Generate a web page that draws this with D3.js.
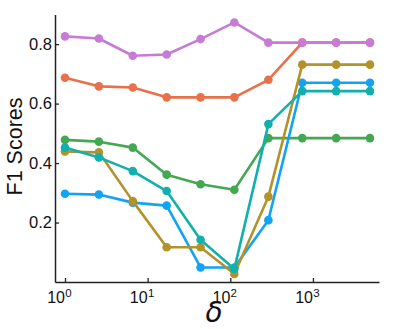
<!DOCTYPE html>
<html><head><meta charset="utf-8">
<script src="https://cdn.jsdelivr.net/npm/d3@7"></script>
<style>body{margin:0;background:#fff}svg{display:block}</style>
</head><body>
<svg id="c" width="395" height="329"></svg>
<script>
const deltas = [1, 2.57, 6.61, 17, 43.7, 112, 289, 743, 1910, 4900];
const seriesNames = ["orange", "green", "blue", "gold", "teal", "purple"];
const seriesColors = ["#e8704a", "#44a852", "#12a3f5", "#b3922a", "#12b0ad", "#c87bd6"];
const orange = [0.687, 0.658, 0.654, 0.621, 0.621, 0.621, 0.680, 0.805, 0.805, 0.805];
const green  = [0.478, 0.472, 0.452, 0.361, 0.329, 0.310, 0.484, 0.484, 0.484, 0.484];
const blue   = [0.297, 0.294, 0.267, 0.257, 0.049, 0.049, 0.208, 0.670, 0.670, 0.670];
const gold   = [0.439, 0.436, 0.272, 0.117, 0.117, 0.027, 0.287, 0.731, 0.731, 0.731];
const teal   = [0.452, 0.419, 0.373, 0.306, 0.142, 0.044, 0.531, 0.642, 0.642, 0.642];
const purple = [0.826, 0.819, 0.761, 0.765, 0.817, 0.873, 0.805, 0.805, 0.805, 0.805];
const seriesValues = [orange, green, blue, gold, teal, purple];
const xTicks = [1, 10, 100, 1000];
const xTickExps = ["0", "1", "2", "3"];
const yTicks = [0.2, 0.4, 0.6, 0.8];

const svg = d3.select("#c");
const x = d3.scaleLog().domain([0.757, 6300]).range([55, 379]);
const y = d3.scaleLinear().domain([0, 0.9]).range([282, 14.4]);
const font = "'Liberation Sans', Arial, sans-serif";

// series
const line = d3.line().x((d, i) => x(deltas[i])).y(d => y(d));
seriesValues.forEach((vals, k) => {
  const g = svg.append("g");
  g.append("path").attr("d", line(vals)).attr("fill", "none")
    .attr("stroke", seriesColors[k]).attr("stroke-width", 2.6).attr("stroke-linejoin", "round");
  g.selectAll("circle").data(vals).join("circle")
    .attr("cx", (d, i) => x(deltas[i])).attr("cy", d => y(d)).attr("r", 4.3)
    .attr("fill", seriesColors[k]);
});

// axes
const ya = svg.append("g").attr("transform", "translate(55,0)")
  .call(d3.axisLeft(y).tickValues(yTicks).tickSizeInner(-4).tickSizeOuter(0).tickPadding(3).tickFormat(d3.format(".1f")));
const xa = svg.append("g").attr("transform", "translate(0,282)")
  .call(d3.axisBottom(x).tickValues(xTicks).tickSizeInner(-4).tickSizeOuter(0).tickFormat(""));
[ya, xa].forEach(a => {
  a.select(".domain").attr("stroke", "#222").attr("stroke-width", 1.5);
  a.selectAll(".tick line").attr("stroke", "#222").attr("stroke-width", 1.3);
});
ya.selectAll("text").attr("font-family", font).attr("font-size", 16.5).attr("fill", "#111");

xTicks.forEach((t, i) => {
  svg.append("text").attr("x", x(t)).attr("y", 303.3).attr("text-anchor", "end")
    .attr("font-family", font).attr("font-size", 16).attr("fill", "#111").text("10");
  svg.append("text").attr("x", x(t) + 0.3).attr("y", 296.7).attr("text-anchor", "start")
    .attr("font-family", font).attr("font-size", 11.5).attr("fill", "#111").text(xTickExps[i]);
});

svg.append("text").attr("transform", "translate(22,146.5) rotate(-90)")
  .attr("text-anchor", "middle").attr("font-family", font).attr("font-size", 21.5)
  .attr("fill", "#111").text("F1 Scores");
svg.append("text").attr("x", 214).attr("y", 322).attr("text-anchor", "middle")
  .attr("font-family", "'DejaVu Sans', sans-serif").attr("font-style", "italic")
  .attr("font-size", 28).attr("fill", "#111").text("δ");
</script>
</body></html>
